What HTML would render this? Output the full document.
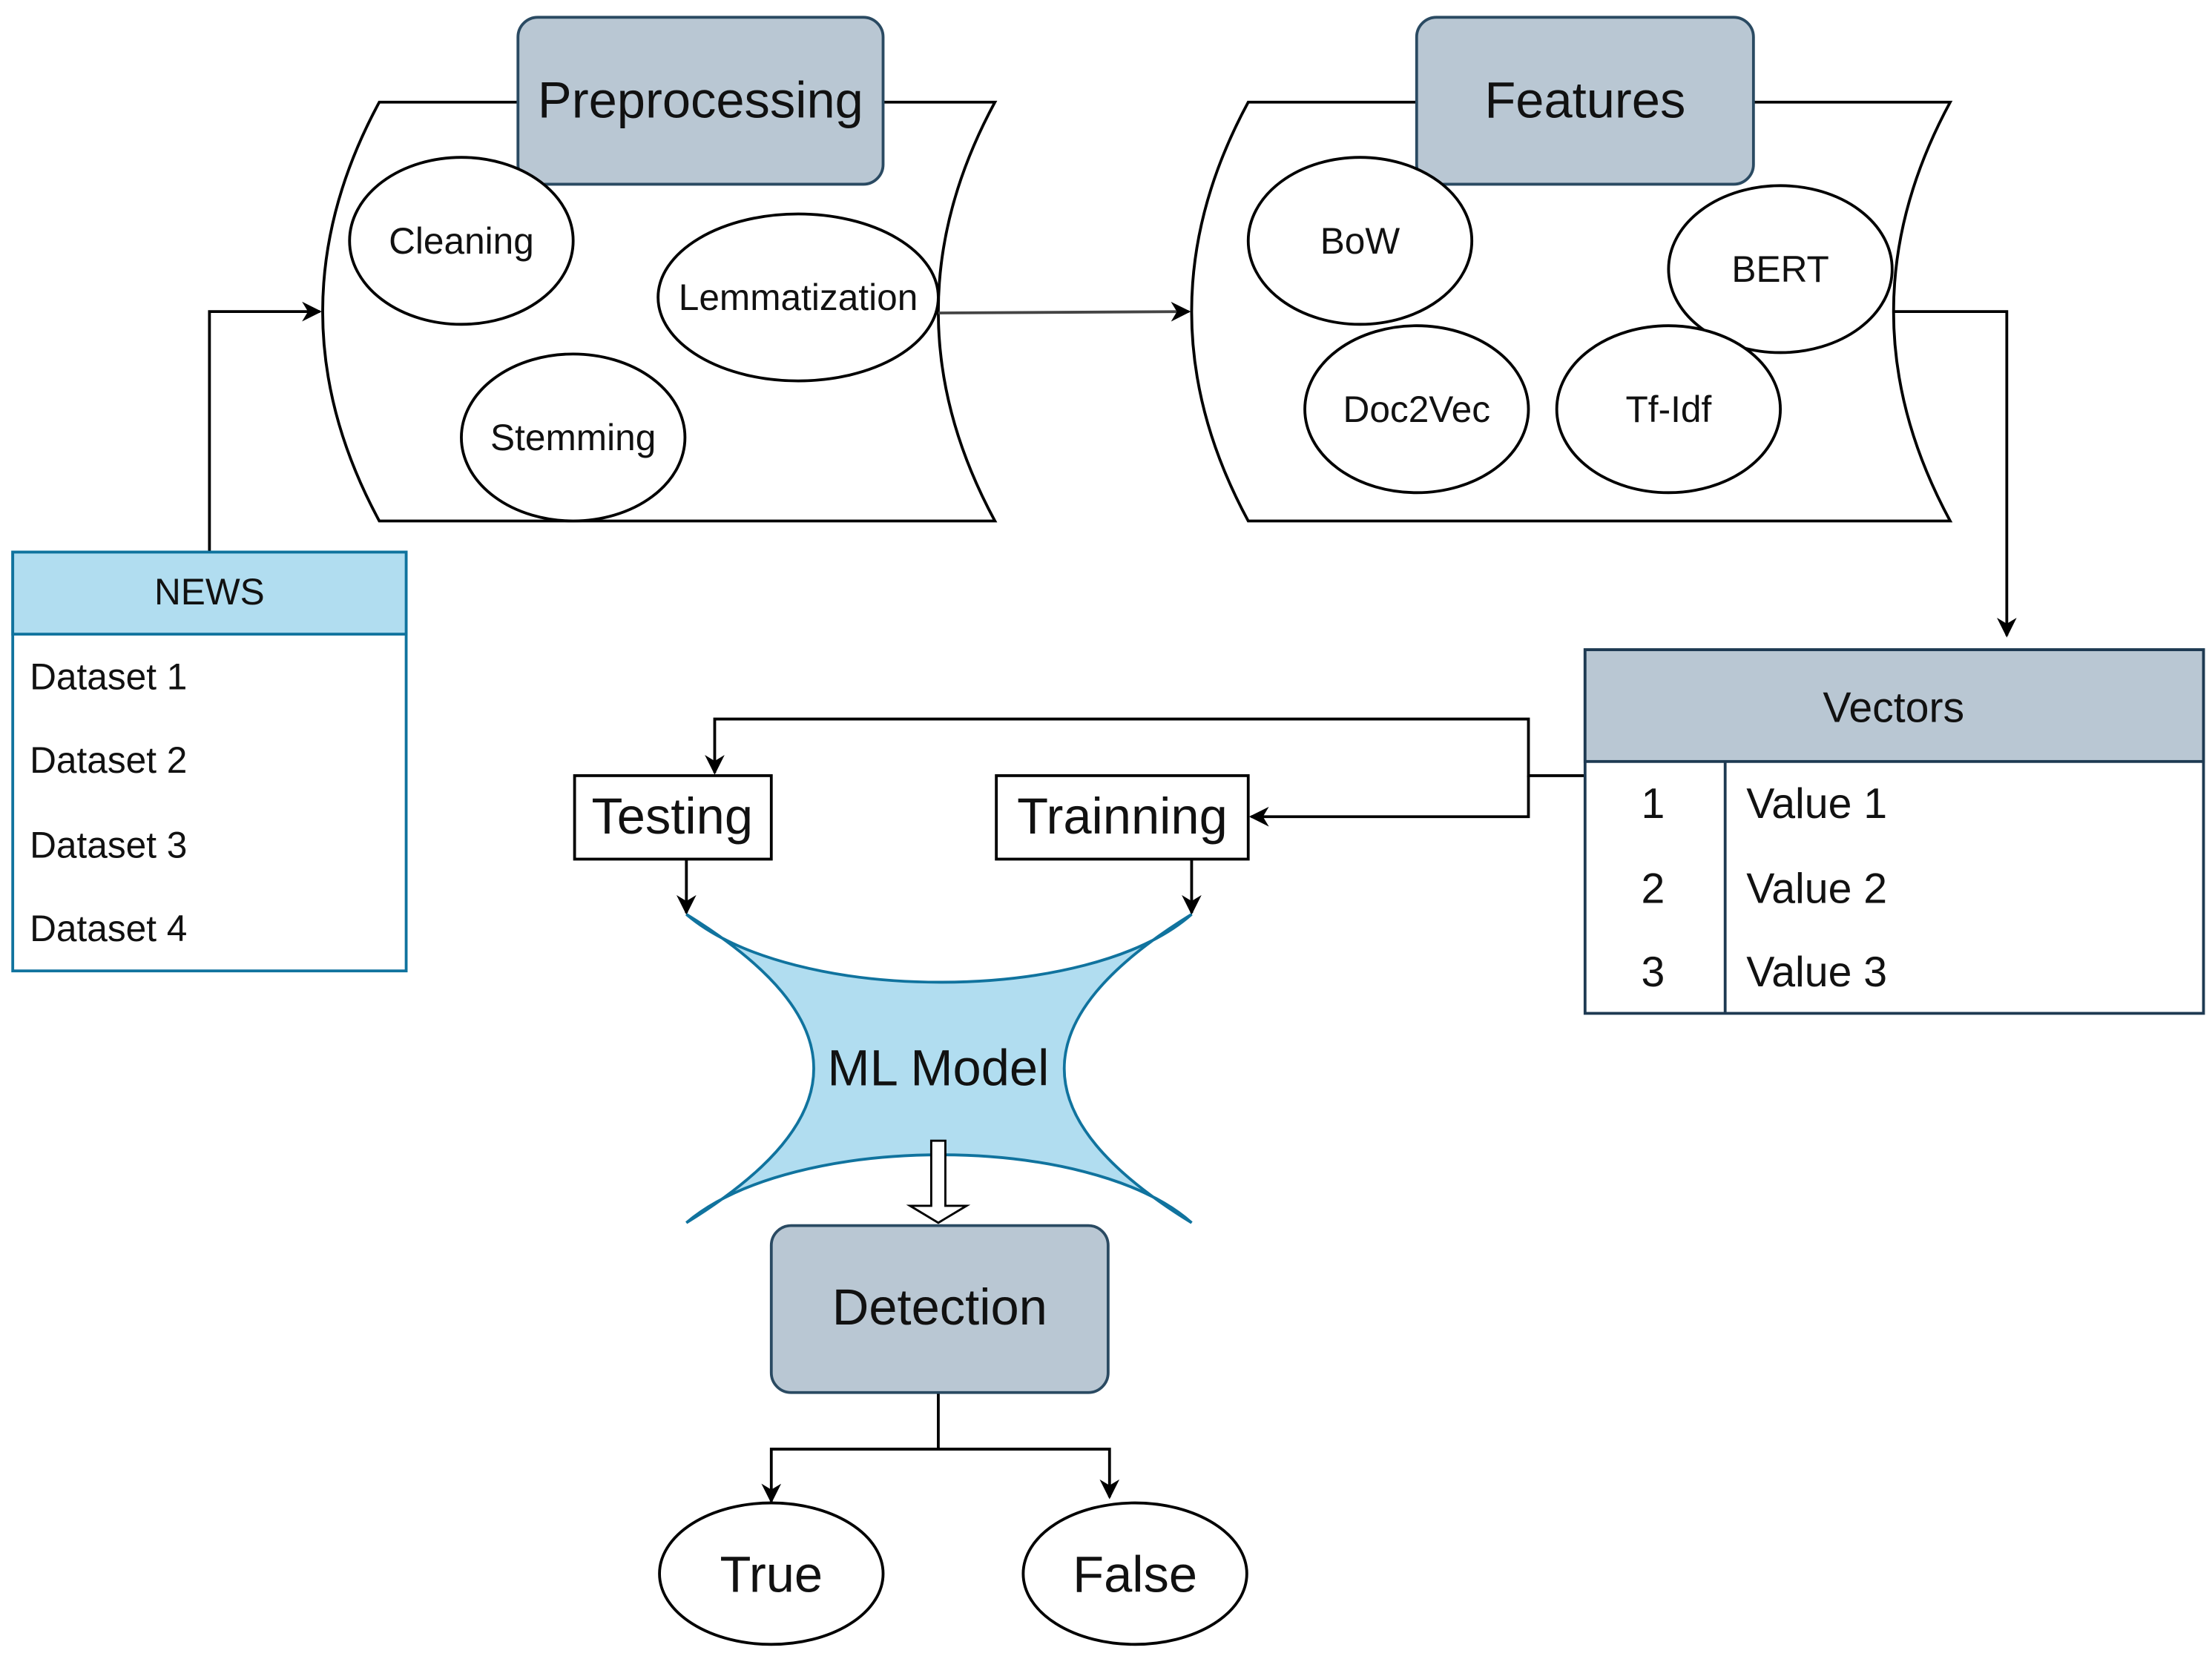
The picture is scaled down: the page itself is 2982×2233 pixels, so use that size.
<!DOCTYPE html>
<html><head><meta charset="utf-8"><style>
html,body{margin:0;padding:0;background:#fff}
svg{display:block}
text{font-family:"Liberation Sans",Arial,sans-serif;fill:#111}
</style></head><body>
<svg width="2982" height="2233" viewBox="0 0 1563 1170" xmlns="http://www.w3.org/2000/svg">
<defs>
<marker id="a" viewBox="0 0 10 10" refX="9" refY="5" markerWidth="7" markerHeight="7" orient="auto" markerUnits="userSpaceOnUse"><path d="M0,0 L10,5 L0,10 L3,5 z" fill="#000"/></marker>
<marker id="b" viewBox="0 0 10 10" refX="9" refY="5" markerWidth="14" markerHeight="14" orient="auto" markerUnits="userSpaceOnUse"><path d="M0,0 L10,5 L0,10 L3,5 z" fill="#000"/></marker>
</defs>
<g fill="none" stroke="#000" stroke-width="2">
<!-- tapes -->
<path d="M268,72 L703,72 Q623,220 703,368 L268,368 Q188,220 268,72 z" fill="#fff"/>
<path d="M882,72 L1378,72 Q1298,220 1378,368 L882,368 Q802,220 882,72 z" fill="#fff"/>
<!-- connectors -->
<path d="M148,390 L148,220 L226,220" marker-end="url(#b)"/>
<path d="M663,221 L840,220" marker-end="url(#b)" stroke="#444"/>
<path d="M1338,220 L1418,220 L1418,449" marker-end="url(#b)"/>
<path d="M1120,548 L1080,548 L1080,508 L505,508 L505,546" marker-end="url(#b)"/>
<path d="M1080,548 L1080,577 L884,577" marker-end="url(#b)"/>
<path d="M485,607 L485,645" marker-end="url(#b)"/>
<path d="M842,607 L842,645" marker-end="url(#b)"/>
<path d="M663,984 L663,1024 L545,1024 L545,1061" marker-end="url(#b)"/>
<path d="M663,1024 L784,1024 L784,1058" marker-end="url(#b)"/>
</g>
<!-- header boxes -->
<rect x="366" y="12" width="258" height="118" rx="14" fill="#b9c7d3" stroke="#2a4a62" stroke-width="2"/>
<text x="495" y="83" font-size="36" text-anchor="middle">Preprocessing</text>
<rect x="1001" y="12" width="238" height="118" rx="14" fill="#b9c7d3" stroke="#2a4a62" stroke-width="2"/>
<text x="1120" y="83" font-size="36" text-anchor="middle">Features</text>
<!-- ellipses -->
<g fill="#fff" stroke="#000" stroke-width="2">
<ellipse cx="326" cy="170" rx="79" ry="59"/>
<ellipse cx="564" cy="210" rx="99" ry="59"/>
<ellipse cx="405" cy="309" rx="79" ry="59"/>
<ellipse cx="961" cy="170" rx="79" ry="59"/>
<ellipse cx="1258" cy="190" rx="79" ry="59"/>
<ellipse cx="1001" cy="289" rx="79" ry="59"/>
<ellipse cx="1179" cy="289" rx="79" ry="59"/>
<ellipse cx="545" cy="1112" rx="79" ry="50"/>
<ellipse cx="802" cy="1112" rx="79" ry="50"/>
</g>
<g font-size="26" text-anchor="middle">
<text x="326" y="179">Cleaning</text>
<text x="564" y="219">Lemmatization</text>
<text x="405" y="318">Stemming</text>
<text x="961" y="179">BoW</text>
<text x="1258" y="199">BERT</text>
<text x="1001" y="298">Doc2Vec</text>
<text x="1179" y="298">Tf-Idf</text>
</g>
<text x="545" y="1125" font-size="36" text-anchor="middle">True</text>
<text x="802" y="1125" font-size="36" text-anchor="middle">False</text>
<!-- NEWS -->
<rect x="9" y="390" width="278" height="296" fill="#fff" stroke="#10739e" stroke-width="2"/>
<rect x="9" y="390" width="278" height="58" fill="#b1ddf0" stroke="#10739e" stroke-width="2"/>
<text x="148" y="427" font-size="26" text-anchor="middle">NEWS</text>
<g font-size="26">
<text x="21" y="487">Dataset 1</text>
<text x="21" y="546">Dataset 2</text>
<text x="21" y="606">Dataset 3</text>
<text x="21" y="665">Dataset 4</text>
</g>
<!-- Vectors -->
<rect x="1120" y="459" width="437" height="257" fill="#fff" stroke="#1e3a52" stroke-width="2"/>
<rect x="1120" y="459" width="437" height="79" fill="#b9c7d3" stroke="#1e3a52" stroke-width="2"/>
<line x1="1219" y1="538" x2="1219" y2="716" stroke="#1e3a52" stroke-width="2"/>
<text x="1338" y="510" font-size="30" text-anchor="middle">Vectors</text>
<g font-size="30">
<text x="1168" y="578" text-anchor="middle">1</text>
<text x="1168" y="638" text-anchor="middle">2</text>
<text x="1168" y="697" text-anchor="middle">3</text>
<text x="1234" y="578">Value 1</text>
<text x="1234" y="638">Value 2</text>
<text x="1234" y="697">Value 3</text>
</g>
<!-- Testing / Training -->
<rect x="406" y="548" width="139" height="59" fill="#fff" stroke="#000" stroke-width="2"/>
<text x="475" y="589" font-size="36" text-anchor="middle">Testing</text>
<rect x="704" y="548" width="178" height="59" fill="#fff" stroke="#000" stroke-width="2"/>
<text x="793" y="589" font-size="36" text-anchor="middle">Trainning</text>
<!-- ML model -->
<path d="M485,646 C560,710 770,710 842,646 C722,720 722,790 842,864 C770,800 560,800 485,864 C605,790 605,720 485,646 z" fill="#b1ddf0" stroke="#10739e" stroke-width="2"/>
<text x="663" y="767" font-size="36" text-anchor="middle">ML Model</text>
<path d="M658,806 L668,806 L668,852 L683,852 L663,864 L643,852 L658,852 z" fill="#fff" stroke="#000" stroke-width="1.5"/>
<!-- Detection -->
<rect x="545" y="866" width="238" height="118" rx="14" fill="#b9c7d3" stroke="#2a4a62" stroke-width="2"/>
<text x="664" y="936" font-size="36" text-anchor="middle">Detection</text>
</svg>
</body></html>
